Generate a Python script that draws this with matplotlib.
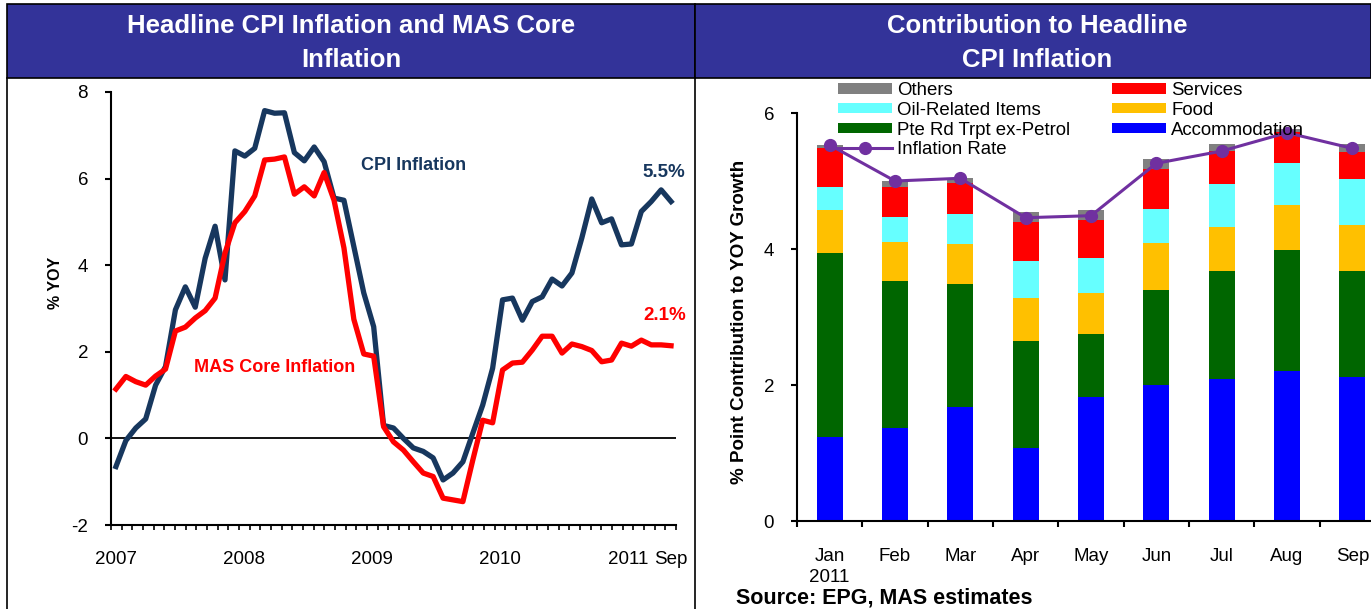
import numpy as np
import matplotlib
matplotlib.use("Agg")
import matplotlib.pyplot as plt
from matplotlib.patches import Rectangle, Patch
from matplotlib.lines import Line2D

plt.rcParams['font.family'] = ['Liberation Sans', 'DejaVu Sans']
plt.rcParams['axes.unicode_minus'] = False

# --- dati pannello sinistro: inflazione mensile YOY, Jan 2007 - Sep 2011 ---
cpi = [-0.65, -0.05, 0.24, 0.45, 1.23, 1.66, 2.97, 3.5, 3.03, 4.16, 4.9, 3.66,
       6.64, 6.52, 6.7, 7.57, 7.51, 7.52, 6.6, 6.41, 6.73, 6.39, 5.55, 5.5,
       4.43, 3.36, 2.58, 0.3, 0.24, 0.0, -0.22, -0.3, -0.45, -0.96, -0.8, -0.54,
       0.12, 0.77, 1.62, 3.2, 3.24, 2.73, 3.16, 3.27, 3.68, 3.52, 3.82, 4.63,
       5.53, 4.98, 5.07, 4.47, 4.49, 5.24, 5.47, 5.74, 5.47]
core = [1.14, 1.43, 1.31, 1.23, 1.44, 1.6, 2.48, 2.57, 2.78, 2.95, 3.24, 4.28,
        4.98, 5.24, 5.6, 6.43, 6.45, 6.5, 5.64, 5.81, 5.6, 6.14, 5.5, 4.4,
        2.75, 1.95, 1.9, 0.27, -0.08, -0.27, -0.54, -0.8, -0.88, -1.38, -1.42, -1.46,
        -0.5, 0.42, 0.36, 1.58, 1.74, 1.76, 2.04, 2.36, 2.36, 1.97, 2.18, 2.12,
        2.03, 1.77, 1.81, 2.2, 2.13, 2.27, 2.16, 2.16, 2.14]
# l'asse x dell'originale ha 53 intervalli di tick, etichette ogni 12
n_tick_int = 53
year_labels = ['2007', '2008', '2009', '2010', '2011', 'Sep']
year_slots = [0, 12, 24, 36, 48, 52]

# --- dati pannello destro: contributi all'inflazione 2011 ---
months = ['Jan\n2011', 'Feb', 'Mar', 'Apr', 'May', 'Jun', 'Jul', 'Aug', 'Sep']
accommodation = [1.23, 1.37, 1.68, 1.08, 1.82, 2.00, 2.09, 2.20, 2.12]
pte_rd = [2.71, 2.16, 1.81, 1.56, 0.93, 1.40, 1.58, 1.79, 1.55]
food = [0.63, 0.57, 0.58, 0.64, 0.60, 0.69, 0.65, 0.65, 0.68]
oil = [0.34, 0.37, 0.45, 0.54, 0.52, 0.50, 0.64, 0.62, 0.68]
services = [0.58, 0.44, 0.45, 0.58, 0.56, 0.58, 0.48, 0.46, 0.40]
others = [0.04, 0.09, 0.07, 0.15, 0.15, 0.16, 0.10, 0.05, 0.12]
inflation_rate = [5.53, 5.0, 5.04, 4.46, 4.49, 5.26, 5.44, 5.71, 5.48]

W, H = 1371, 609
fig = plt.figure(figsize=(W / 100, H / 100), dpi=100)


# helper: da pixel a coordinate figura
def fx(px):
    return px / W


def fy(py):
    return 1 - py / H


# bande blu dei titoli
band = '#333399'
for x0, x1 in [(7, 695), (695, 1371)]:
    fig.patches.append(Rectangle((fx(x0), fy(78)), fx(x1 - x0), 74 / H,
                                 transform=fig.transFigure, facecolor=band,
                                 edgecolor='black', lw=1.2))
fig.text(fx(351), fy(43), 'Headline CPI Inflation and MAS Core\nInflation',
         color='white', fontsize=18.5, fontweight='bold',
         ha='center', va='center', linespacing=1.5)
fig.text(fx(1037), fy(43), 'Contribution to Headline\nCPI Inflation',
         color='white', fontsize=18.5, fontweight='bold',
         ha='center', va='center', linespacing=1.5)

# linee verticali dei pannelli
for xp in [7, 695]:
    fig.lines.append(Line2D([fx(xp), fx(xp)], [fy(78), 0], transform=fig.transFigure,
                            color='black', lw=1.2))

# ---------------- pannello sinistro ----------------
ax1 = fig.add_axes([fx(111), fy(525), fx(676 - 111), (525 - 92) / H])
x = np.arange(len(cpi))
ax1.plot(x, cpi, color='#17375E', lw=3.8)
ax1.plot(x, core, color='#FF0000', lw=3.8)
ax1.axhline(0, color='black', lw=1.3, zorder=1)
ax1.set_xlim(-0.5, len(cpi) - 0.5)
ax1.set_ylim(-2, 8)
ax1.set_yticks([-2, 0, 2, 4, 6, 8])

step = len(cpi) / n_tick_int
ax1.set_xticks([-0.5 + (k + 0.5) * step for k in year_slots])
ax1.set_xticklabels(year_labels)
ax1.set_xticks(np.linspace(-0.5, len(cpi) - 0.5, n_tick_int + 1), minor=True)
ax1.tick_params(axis='x', which='major', length=0, pad=18.5, labelsize=13.5)
ax1.tick_params(axis='x', which='minor', length=3.8, width=1.2, direction='out')
ax1.tick_params(axis='y', length=4.5, width=1.5, pad=12, labelsize=13.5)
for s in ['top', 'right']:
    ax1.spines[s].set_visible(False)
for s in ['left', 'bottom']:
    ax1.spines[s].set_linewidth(1.5)

ax1.text(30, 6.3, 'CPI Inflation', color='#17375E', fontsize=13,
         fontweight='bold', ha='center', va='center')
ax1.text(16, 1.63, 'MAS Core Inflation', color='#FF0000', fontsize=13,
         fontweight='bold', ha='center', va='center')
ax1.text(55.3, 6.15, '5.5%', color='#17375E', fontsize=13.5,
         fontweight='bold', ha='center', va='center')
ax1.text(55.4, 2.83, '2.1%', color='#FF0000', fontsize=13.5,
         fontweight='bold', ha='center', va='center')
fig.text(fx(55), fy(283), '% YOY', rotation=90, fontsize=11.5, fontweight='bold',
         ha='center', va='center')

# ---------------- pannello destro ----------------
ax2 = fig.add_axes([fx(797), fy(521), fx(1385 - 797), (521 - 113) / H])
xb = np.arange(len(months))
series = [(accommodation, '#0000FF', 'Accommodation'),
          (pte_rd, '#006600', 'Pte Rd Trpt ex-Petrol'),
          (food, '#FFC000', 'Food'),
          (oil, '#66FFFF', 'Oil-Related Items'),
          (services, '#FF0000', 'Services'),
          (others, '#808080', 'Others')]
bottom = np.zeros(len(months))
handles = {}
for vals, col, name in series:
    ax2.bar(xb, vals, width=0.4, bottom=bottom, color=col, edgecolor='none')
    bottom += np.array(vals)
    handles[name] = Patch(facecolor=col, edgecolor='none')
ax2.plot(xb, inflation_rate, color='#7030A0', lw=2.2, marker='o', markersize=8.5)
handles['Inflation Rate'] = Line2D([], [], color='#7030A0', lw=2.2, marker='o', markersize=8.5)

ax2.set_xlim(-0.5, len(months) - 0.5)
ax2.set_ylim(0, 6)
ax2.set_yticks([0, 2, 4, 6])
ax2.set_xticks(xb)
ax2.set_xticklabels(months)
ax2.get_xticklabels()[0].set_linespacing(1.3)
ax2.set_xticks(np.arange(-0.5, len(months) + 0.5, 1), minor=True)
ax2.tick_params(axis='x', which='major', length=0, pad=19.5, labelsize=13.5)
ax2.tick_params(axis='x', which='minor', length=4.5, width=1.5, direction='out')
ax2.tick_params(axis='y', length=4.5, width=1.5, pad=12, labelsize=13.5)
for s in ['top', 'right']:
    ax2.spines[s].set_visible(False)
for s in ['left', 'bottom']:
    ax2.spines[s].set_linewidth(1.5)

order = ['Others', 'Oil-Related Items', 'Pte Rd Trpt ex-Petrol', 'Inflation Rate',
         'Services', 'Food', 'Accommodation']
fig.legend([handles[k] for k in order], order, ncol=2, frameon=False,
           loc='upper left', bbox_to_anchor=(fx(838), fy(82)),
           fontsize=13.4, handlelength=2.9, handleheight=0.5, handletextpad=0.28,
           labelspacing=0.15, columnspacing=2.25, borderpad=0, borderaxespad=0)

fig.text(fx(740), fy(322), '% Point Contribution to YOY Growth', rotation=90,
         fontsize=13.5, fontweight='bold', ha='center', va='center')
fig.text(fx(736), fy(598), 'Source: EPG, MAS estimates', fontsize=15.5,
         fontweight='bold', ha='left', va='center')

fig.savefig('out.png', dpi=100)
